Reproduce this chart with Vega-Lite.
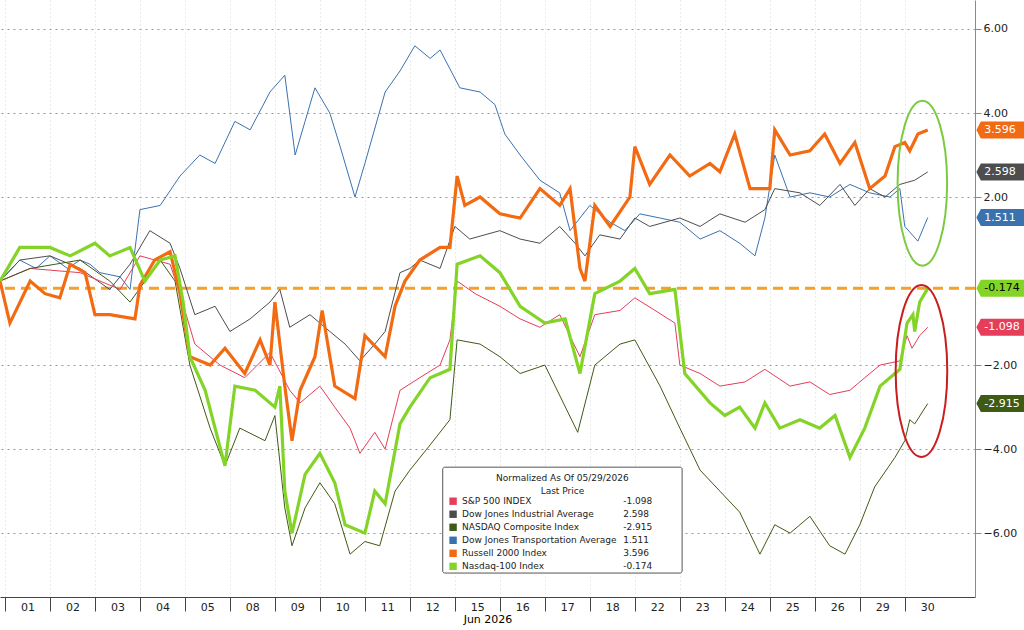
{
  "$schema": "https://vega.github.io/schema/vega-lite/v6.json",
  "width": 975,
  "height": 597,
  "autosize": "none",
  "padding": {"left": 0, "top": 0, "right": 49, "bottom": 33},
  "background": "white",
  "config": {"view": {"stroke": null}, "font": "DejaVu Sans"},
  "datasets": {
    "lines": [
      {"s":"DJT","t":0,"v":0},{"s":"DJT","t":0.44,"v":0.5},{"s":"DJT","t":0.8,"v":0.3},{"s":"DJT","t":1.11,"v":0.6},{"s":"DJT","t":1.5,"v":0.3},{"s":"DJT","t":1.78,"v":0.5},{"s":"DJT","t":2.0,"v":0.4},{"s":"DJT","t":2.22,"v":0.2},{"s":"DJT","t":2.67,"v":0.1},{"s":"DJT","t":2.89,"v":-0.2},{"s":"DJT","t":3.11,"v":1.7},{"s":"DJT","t":3.56,"v":1.8},{"s":"DJT","t":4.0,"v":2.5},{"s":"DJT","t":4.44,"v":3.0},{"s":"DJT","t":4.78,"v":2.8},{"s":"DJT","t":5.22,"v":3.8},{"s":"DJT","t":5.56,"v":3.6},{"s":"DJT","t":6.0,"v":4.5},{"s":"DJT","t":6.33,"v":4.9},{"s":"DJT","t":6.56,"v":3.0},{"s":"DJT","t":6.78,"v":3.8},{"s":"DJT","t":7.0,"v":4.6},{"s":"DJT","t":7.33,"v":4.0},{"s":"DJT","t":7.56,"v":3.2},{"s":"DJT","t":7.89,"v":2.0},{"s":"DJT","t":8.11,"v":2.8},{"s":"DJT","t":8.56,"v":4.5},{"s":"DJT","t":8.89,"v":5.0},{"s":"DJT","t":9.22,"v":5.6},{"s":"DJT","t":9.56,"v":5.3},{"s":"DJT","t":9.78,"v":5.5},{"s":"DJT","t":10.22,"v":4.6},{"s":"DJT","t":10.67,"v":4.5},{"s":"DJT","t":11.0,"v":4.2},{"s":"DJT","t":11.22,"v":3.5},{"s":"DJT","t":11.56,"v":3.0},{"s":"DJT","t":12.0,"v":2.4},{"s":"DJT","t":12.44,"v":2.1},{"s":"DJT","t":12.67,"v":1.2},{"s":"DJT","t":13.11,"v":1.8},{"s":"DJT","t":13.56,"v":1.4},{"s":"DJT","t":13.89,"v":1.2},{"s":"DJT","t":14.22,"v":1.6},{"s":"DJT","t":14.67,"v":1.5},{"s":"DJT","t":15.11,"v":1.4},{"s":"DJT","t":15.56,"v":1.0},{"s":"DJT","t":16.0,"v":1.2},{"s":"DJT","t":16.44,"v":0.9},{"s":"DJT","t":16.78,"v":0.6},{"s":"DJT","t":17.0,"v":1.5},{"s":"DJT","t":17.22,"v":3.0},{"s":"DJT","t":17.56,"v":2.0},{"s":"DJT","t":18.0,"v":2.1},{"s":"DJT","t":18.44,"v":2.0},{"s":"DJT","t":18.89,"v":2.3},{"s":"DJT","t":19.33,"v":2.1},{"s":"DJT","t":19.78,"v":2.0},{"s":"DJT","t":20.0,"v":2.2},{"s":"DJT","t":20.11,"v":1.3},{"s":"DJT","t":20.4,"v":0.95},{"s":"DJT","t":20.62,"v":1.511},

      {"s":"DJIA","t":0,"v":0},{"s":"DJIA","t":0.44,"v":0.5},{"s":"DJIA","t":1.11,"v":0.6},{"s":"DJIA","t":1.78,"v":0.3},{"s":"DJIA","t":2.44,"v":-0.2},{"s":"DJIA","t":2.89,"v":0.4},{"s":"DJIA","t":3.33,"v":1.2},{"s":"DJIA","t":3.78,"v":0.9},{"s":"DJIA","t":4.0,"v":0.3},{"s":"DJIA","t":4.33,"v":-0.8},{"s":"DJIA","t":4.78,"v":-0.6},{"s":"DJIA","t":5.11,"v":-1.2},{"s":"DJIA","t":5.56,"v":-0.9},{"s":"DJIA","t":6.0,"v":-0.5},{"s":"DJIA","t":6.22,"v":-0.2},{"s":"DJIA","t":6.44,"v":-1.1},{"s":"DJIA","t":6.89,"v":-0.8},{"s":"DJIA","t":7.33,"v":-1.2},{"s":"DJIA","t":7.67,"v":-1.5},{"s":"DJIA","t":8.0,"v":-1.9},{"s":"DJIA","t":8.33,"v":-1.5},{"s":"DJIA","t":8.56,"v":-1.2},{"s":"DJIA","t":8.89,"v":0.2},{"s":"DJIA","t":9.11,"v":0.3},{"s":"DJIA","t":9.33,"v":0.5},{"s":"DJIA","t":9.78,"v":0.3},{"s":"DJIA","t":10.11,"v":1.3},{"s":"DJIA","t":10.44,"v":1.0},{"s":"DJIA","t":11.11,"v":1.2},{"s":"DJIA","t":11.56,"v":1.0},{"s":"DJIA","t":12.0,"v":0.9},{"s":"DJIA","t":12.44,"v":1.3},{"s":"DJIA","t":12.78,"v":0.9},{"s":"DJIA","t":13.0,"v":0.6},{"s":"DJIA","t":13.33,"v":1.1},{"s":"DJIA","t":13.78,"v":1.0},{"s":"DJIA","t":14.11,"v":1.5},{"s":"DJIA","t":14.44,"v":1.3},{"s":"DJIA","t":15.11,"v":1.5},{"s":"DJIA","t":15.56,"v":1.3},{"s":"DJIA","t":16.0,"v":1.6},{"s":"DJIA","t":16.56,"v":1.4},{"s":"DJIA","t":17.0,"v":1.7},{"s":"DJIA","t":17.22,"v":2.2},{"s":"DJIA","t":17.78,"v":2.1},{"s":"DJIA","t":18.22,"v":1.8},{"s":"DJIA","t":18.67,"v":2.3},{"s":"DJIA","t":19.0,"v":1.8},{"s":"DJIA","t":19.33,"v":2.2},{"s":"DJIA","t":19.67,"v":2.0},{"s":"DJIA","t":20.0,"v":2.3},{"s":"DJIA","t":20.33,"v":2.4},{"s":"DJIA","t":20.62,"v":2.598},

      {"s":"SPX","t":0,"v":0},{"s":"SPX","t":0.67,"v":0.3},{"s":"SPX","t":1.78,"v":0.2},{"s":"SPX","t":2.67,"v":-0.2},{"s":"SPX","t":3.11,"v":0.6},{"s":"SPX","t":3.78,"v":0.4},{"s":"SPX","t":4.0,"v":-0.3},{"s":"SPX","t":4.33,"v":-1.5},{"s":"SPX","t":4.89,"v":-2.0},{"s":"SPX","t":5.44,"v":-2.3},{"s":"SPX","t":6.0,"v":-1.7},{"s":"SPX","t":6.44,"v":-2.6},{"s":"SPX","t":6.67,"v":-2.9},{"s":"SPX","t":7.11,"v":-2.5},{"s":"SPX","t":7.44,"v":-3.0},{"s":"SPX","t":7.78,"v":-3.5},{"s":"SPX","t":8.0,"v":-4.1},{"s":"SPX","t":8.33,"v":-3.6},{"s":"SPX","t":8.56,"v":-4.0},{"s":"SPX","t":8.89,"v":-2.6},{"s":"SPX","t":9.33,"v":-2.3},{"s":"SPX","t":9.78,"v":-2.0},{"s":"SPX","t":10.0,"v":-1.4},{"s":"SPX","t":10.16,"v":0.0},{"s":"SPX","t":10.56,"v":-0.3},{"s":"SPX","t":11.11,"v":-0.6},{"s":"SPX","t":11.56,"v":-0.9},{"s":"SPX","t":12.0,"v":-1.1},{"s":"SPX","t":12.44,"v":-0.8},{"s":"SPX","t":12.89,"v":-1.8},{"s":"SPX","t":13.22,"v":-0.8},{"s":"SPX","t":13.78,"v":-0.7},{"s":"SPX","t":14.11,"v":-0.4},{"s":"SPX","t":14.56,"v":-0.7},{"s":"SPX","t":15.0,"v":-1.0},{"s":"SPX","t":15.11,"v":-2.0},{"s":"SPX","t":15.56,"v":-2.2},{"s":"SPX","t":16.0,"v":-2.5},{"s":"SPX","t":16.56,"v":-2.4},{"s":"SPX","t":17.0,"v":-2.1},{"s":"SPX","t":17.56,"v":-2.5},{"s":"SPX","t":18.0,"v":-2.4},{"s":"SPX","t":18.44,"v":-2.7},{"s":"SPX","t":18.89,"v":-2.6},{"s":"SPX","t":19.22,"v":-2.3},{"s":"SPX","t":19.56,"v":-2.0},{"s":"SPX","t":20.0,"v":-1.9},{"s":"SPX","t":20.16,"v":-1.3},{"s":"SPX","t":20.27,"v":-1.6},{"s":"SPX","t":20.44,"v":-1.3},{"s":"SPX","t":20.62,"v":-1.098},

      {"s":"CCMP","t":0,"v":0},{"s":"CCMP","t":0.67,"v":0.3},{"s":"CCMP","t":1.78,"v":0.5},{"s":"CCMP","t":2.44,"v":0.0},{"s":"CCMP","t":2.89,"v":-0.5},{"s":"CCMP","t":3.56,"v":0.5},{"s":"CCMP","t":3.89,"v":0.0},{"s":"CCMP","t":4.22,"v":-2.0},{"s":"CCMP","t":4.67,"v":-3.5},{"s":"CCMP","t":5.0,"v":-4.4},{"s":"CCMP","t":5.33,"v":-3.5},{"s":"CCMP","t":5.89,"v":-3.8},{"s":"CCMP","t":6.11,"v":-3.2},{"s":"CCMP","t":6.33,"v":-5.4},{"s":"CCMP","t":6.49,"v":-6.3},{"s":"CCMP","t":6.78,"v":-5.4},{"s":"CCMP","t":7.11,"v":-4.8},{"s":"CCMP","t":7.44,"v":-5.3},{"s":"CCMP","t":7.78,"v":-6.5},{"s":"CCMP","t":8.11,"v":-6.2},{"s":"CCMP","t":8.44,"v":-6.3},{"s":"CCMP","t":8.78,"v":-5.0},{"s":"CCMP","t":9.11,"v":-4.5},{"s":"CCMP","t":9.56,"v":-3.9},{"s":"CCMP","t":10.0,"v":-3.3},{"s":"CCMP","t":10.16,"v":-1.4},{"s":"CCMP","t":10.67,"v":-1.5},{"s":"CCMP","t":11.11,"v":-1.8},{"s":"CCMP","t":11.56,"v":-2.2},{"s":"CCMP","t":12.11,"v":-2.0},{"s":"CCMP","t":12.84,"v":-3.6},{"s":"CCMP","t":13.22,"v":-2.0},{"s":"CCMP","t":13.78,"v":-1.5},{"s":"CCMP","t":14.11,"v":-1.4},{"s":"CCMP","t":14.67,"v":-2.5},{"s":"CCMP","t":15.11,"v":-3.5},{"s":"CCMP","t":15.56,"v":-4.5},{"s":"CCMP","t":16.0,"v":-5.0},{"s":"CCMP","t":16.44,"v":-5.5},{"s":"CCMP","t":16.89,"v":-6.5},{"s":"CCMP","t":17.22,"v":-5.8},{"s":"CCMP","t":17.56,"v":-6.0},{"s":"CCMP","t":18.0,"v":-5.6},{"s":"CCMP","t":18.44,"v":-6.3},{"s":"CCMP","t":18.78,"v":-6.5},{"s":"CCMP","t":19.11,"v":-5.8},{"s":"CCMP","t":19.44,"v":-4.9},{"s":"CCMP","t":19.89,"v":-4.2},{"s":"CCMP","t":20.11,"v":-3.8},{"s":"CCMP","t":20.22,"v":-3.3},{"s":"CCMP","t":20.33,"v":-3.4},{"s":"CCMP","t":20.62,"v":-2.915},

      {"s":"RTY","t":0,"v":0},{"s":"RTY","t":0.22,"v":-1.0},{"s":"RTY","t":0.67,"v":0.0},{"s":"RTY","t":1.0,"v":-0.3},{"s":"RTY","t":1.33,"v":-0.4},{"s":"RTY","t":1.56,"v":0.4},{"s":"RTY","t":1.89,"v":0.2},{"s":"RTY","t":2.11,"v":-0.8},{"s":"RTY","t":2.44,"v":-0.8},{"s":"RTY","t":3.0,"v":-0.9},{"s":"RTY","t":3.11,"v":-0.1},{"s":"RTY","t":3.44,"v":0.5},{"s":"RTY","t":3.78,"v":0.7},{"s":"RTY","t":4.0,"v":-0.3},{"s":"RTY","t":4.22,"v":-1.8},{"s":"RTY","t":4.67,"v":-2.0},{"s":"RTY","t":5.0,"v":-1.6},{"s":"RTY","t":5.44,"v":-2.2},{"s":"RTY","t":5.78,"v":-1.4},{"s":"RTY","t":6.0,"v":-2.0},{"s":"RTY","t":6.11,"v":-0.5},{"s":"RTY","t":6.33,"v":-2.5},{"s":"RTY","t":6.49,"v":-3.8},{"s":"RTY","t":6.67,"v":-2.6},{"s":"RTY","t":7.0,"v":-1.8},{"s":"RTY","t":7.16,"v":-0.7},{"s":"RTY","t":7.44,"v":-2.5},{"s":"RTY","t":7.89,"v":-2.8},{"s":"RTY","t":8.11,"v":-1.3},{"s":"RTY","t":8.56,"v":-1.8},{"s":"RTY","t":8.78,"v":-0.6},{"s":"RTY","t":9.0,"v":0.0},{"s":"RTY","t":9.33,"v":0.5},{"s":"RTY","t":9.78,"v":0.8},{"s":"RTY","t":10.0,"v":0.8},{"s":"RTY","t":10.16,"v":2.5},{"s":"RTY","t":10.33,"v":1.8},{"s":"RTY","t":10.67,"v":2.0},{"s":"RTY","t":11.11,"v":1.6},{"s":"RTY","t":11.56,"v":1.5},{"s":"RTY","t":12.0,"v":2.2},{"s":"RTY","t":12.44,"v":1.8},{"s":"RTY","t":12.67,"v":2.2},{"s":"RTY","t":12.89,"v":0.3},{"s":"RTY","t":13.0,"v":0.0},{"s":"RTY","t":13.22,"v":1.8},{"s":"RTY","t":13.56,"v":1.3},{"s":"RTY","t":14.0,"v":2.0},{"s":"RTY","t":14.11,"v":3.2},{"s":"RTY","t":14.44,"v":2.3},{"s":"RTY","t":14.89,"v":3.0},{"s":"RTY","t":15.33,"v":2.5},{"s":"RTY","t":15.78,"v":2.8},{"s":"RTY","t":16.0,"v":2.6},{"s":"RTY","t":16.33,"v":3.5},{"s":"RTY","t":16.67,"v":2.2},{"s":"RTY","t":17.11,"v":2.2},{"s":"RTY","t":17.22,"v":3.6},{"s":"RTY","t":17.56,"v":3.0},{"s":"RTY","t":18.0,"v":3.1},{"s":"RTY","t":18.33,"v":3.5},{"s":"RTY","t":18.67,"v":2.8},{"s":"RTY","t":19.0,"v":3.3},{"s":"RTY","t":19.33,"v":2.2},{"s":"RTY","t":19.67,"v":2.5},{"s":"RTY","t":19.89,"v":3.2},{"s":"RTY","t":20.11,"v":3.3},{"s":"RTY","t":20.22,"v":3.1},{"s":"RTY","t":20.4,"v":3.5},{"s":"RTY","t":20.62,"v":3.596},

      {"s":"NDX","t":0,"v":0},{"s":"NDX","t":0.44,"v":0.8},{"s":"NDX","t":1.11,"v":0.8},{"s":"NDX","t":1.56,"v":0.6},{"s":"NDX","t":2.11,"v":0.9},{"s":"NDX","t":2.44,"v":0.6},{"s":"NDX","t":2.89,"v":0.8},{"s":"NDX","t":3.22,"v":0.0},{"s":"NDX","t":3.56,"v":0.5},{"s":"NDX","t":3.89,"v":0.6},{"s":"NDX","t":4.07,"v":-0.5},{"s":"NDX","t":4.22,"v":-1.8},{"s":"NDX","t":4.56,"v":-2.6},{"s":"NDX","t":4.78,"v":-3.5},{"s":"NDX","t":5.0,"v":-4.4},{"s":"NDX","t":5.22,"v":-2.5},{"s":"NDX","t":5.67,"v":-2.6},{"s":"NDX","t":6.11,"v":-3.0},{"s":"NDX","t":6.22,"v":-2.5},{"s":"NDX","t":6.33,"v":-5.0},{"s":"NDX","t":6.49,"v":-6.0},{"s":"NDX","t":6.78,"v":-4.6},{"s":"NDX","t":7.11,"v":-4.1},{"s":"NDX","t":7.44,"v":-4.8},{"s":"NDX","t":7.67,"v":-5.8},{"s":"NDX","t":8.11,"v":-6.0},{"s":"NDX","t":8.33,"v":-5.0},{"s":"NDX","t":8.56,"v":-5.3},{"s":"NDX","t":8.89,"v":-3.4},{"s":"NDX","t":9.11,"v":-3.0},{"s":"NDX","t":9.56,"v":-2.3},{"s":"NDX","t":10.0,"v":-2.1},{"s":"NDX","t":10.16,"v":0.4},{"s":"NDX","t":10.67,"v":0.6},{"s":"NDX","t":11.11,"v":0.2},{"s":"NDX","t":11.56,"v":-0.6},{"s":"NDX","t":12.11,"v":-1.0},{"s":"NDX","t":12.56,"v":-0.9},{"s":"NDX","t":12.89,"v":-2.2},{"s":"NDX","t":13.22,"v":-0.3},{"s":"NDX","t":13.78,"v":0.0},{"s":"NDX","t":14.11,"v":0.3},{"s":"NDX","t":14.44,"v":-0.3},{"s":"NDX","t":15.0,"v":-0.2},{"s":"NDX","t":15.22,"v":-2.2},{"s":"NDX","t":15.78,"v":-2.9},{"s":"NDX","t":16.11,"v":-3.2},{"s":"NDX","t":16.44,"v":-3.0},{"s":"NDX","t":16.78,"v":-3.5},{"s":"NDX","t":17.0,"v":-2.9},{"s":"NDX","t":17.33,"v":-3.5},{"s":"NDX","t":17.78,"v":-3.3},{"s":"NDX","t":18.22,"v":-3.5},{"s":"NDX","t":18.56,"v":-3.2},{"s":"NDX","t":18.89,"v":-4.2},{"s":"NDX","t":19.22,"v":-3.5},{"s":"NDX","t":19.56,"v":-2.5},{"s":"NDX","t":20.0,"v":-2.1},{"s":"NDX","t":20.16,"v":-1.0},{"s":"NDX","t":20.29,"v":-0.8},{"s":"NDX","t":20.33,"v":-1.2},{"s":"NDX","t":20.44,"v":-0.5},{"s":"NDX","t":20.62,"v":-0.174}
    ],
    "tags": [
      {"s":"RTY","v":3.596,"label":"3.596","tx":"white"},
      {"s":"DJIA","v":2.598,"label":"2.598","tx":"white"},
      {"s":"DJT","v":1.511,"label":"1.511","tx":"white"},
      {"s":"NDX","v":-0.174,"label":"-0.174","tx":"black"},
      {"s":"SPX","v":-1.098,"label":"-1.098","tx":"white"},
      {"s":"CCMP","v":-2.915,"label":"-2.915","tx":"white"}
    ],
    "legend": [
      {"s":"SPX","name":"S&P 500 INDEX","val":"-1.098","y":-5.24},
      {"s":"DJIA","name":"Dow Jones Industrial Average","val":"2.598","y":-5.55},
      {"s":"CCMP","name":"NASDAQ Composite Index","val":"-2.915","y":-5.86},
      {"s":"DJT","name":"Dow Jones Transportation Average","val":"1.511","y":-6.17},
      {"s":"RTY","name":"Russell 2000 Index","val":"3.596","y":-6.48},
      {"s":"NDX","name":"Nasdaq-100 Index","val":"-0.174","y":-6.79}
    ]
  },
  "layer": [
    {
      "data": {"values": [{"a": 0}]},
      "mark": {"type": "rule", "strokeWidth": 0},
      "encoding": {
        "x": {"datum": 0, "type": "quantitative", "scale": {"domain": [0, 21.67], "nice": false},
          "axis": {"orient": "bottom", "values": [0.12,1.12,2.12,3.12,4.12,5.12,6.12,7.12,8.12,9.12,10.12,11.12,12.12,13.12,14.12,15.12,16.12,17.12,18.12,19.12,20.12],
            "labelExpr": "['01','02','03','04','05','08','09','10','11','12','15','16','17','18','22','23','24','25','26','29','30'][round(datum.value)]",
            "labelOffset": 22, "labelAlign": "center", "labelFontSize": 11, "labelColor": "#222", "tickSize": 14, "labelPadding": -10, "tickColor": "#444", "domainColor": "#444",
            "grid": true, "gridColor": "#bbb", "gridDash": [1, 3], "gridOpacity": 0.6,
            "title": "Jun 2026", "titleFontSize": 11, "titleFontWeight": "normal", "titlePadding": 1}},
        "y": {"datum": 0, "type": "quantitative", "scale": {"domain": [-7.52, 6.69], "nice": false, "zero": false},
          "axis": {"orient": "right", "values": [6, 4, 2, -2, -4, -6], "format": ".2f", "labelFontSize": 11, "labelColor": "#222",
            "domainColor": "#e0627a", "tickColor": "#e0627a", "tickSize": 6, "grid": true, "gridColor": "#999", "gridDash": [2, 4], "title": null}}
      }
    },
    {
      "data": {"values": [{"v": -0.174}]},
      "mark": {"type": "rule", "color": "#f5a02a", "strokeWidth": 3, "strokeDash": [10, 6]},
      "encoding": {"y": {"field": "v", "type": "quantitative"}}
    },
    {
      "data": {"name": "lines"},
      "transform": [{"filter": "datum.s !== 'RTY' && datum.s !== 'NDX'"}],
      "mark": {"type": "line", "strokeWidth": 1},
      "encoding": {
        "x": {"field": "t", "type": "quantitative"},
        "y": {"field": "v", "type": "quantitative"},
        "order": {"field": "t"},
        "color": {"field": "s", "type": "nominal", "legend": null,
          "scale": {"domain": ["SPX","DJIA","CCMP","DJT","RTY","NDX"], "range": ["#e63d5a","#4d4d4d","#3f5a14","#3a72b0","#f26b13","#84d428"]}}
      }
    },
    {
      "data": {"name": "lines"},
      "transform": [{"filter": "datum.s === 'RTY' || datum.s === 'NDX'"}],
      "mark": {"type": "line", "strokeWidth": 3.2},
      "encoding": {
        "x": {"field": "t", "type": "quantitative"},
        "y": {"field": "v", "type": "quantitative"},
        "order": {"field": "t"},
        "color": {"field": "s", "type": "nominal", "legend": null}
      }
    },
    {
      "data": {"values": [
        {"t": 20.5, "v": 2.33, "c": "green"},
        {"t": 20.48, "v": -2.14, "c": "red"}
      ]},
      "mark": {"type": "point", "filled": false, "strokeWidth": 2, "opacity": 1,
        "shape": "M-0.3,0a0.3,1 0 1,0 0.6,0a0.3,1 0 1,0 -0.6,0"},
      "encoding": {
        "x": {"field": "t", "type": "quantitative"},
        "y": {"field": "v", "type": "quantitative"},
        "size": {"field": "c", "type": "nominal", "legend": null, "scale": {"domain": ["green", "red"], "range": [27225, 29584]}},
        "stroke": {"field": "c", "type": "nominal", "legend": null, "scale": {"domain": ["green", "red"], "range": ["#7cc943", "#c81e1e"]}}
      }
    },
    {
      "data": {"name": "tags"},
      "mark": {"type": "point", "filled": true, "opacity": 1, "clip": false, "shape": "M0,0L0.18,-0.34H2V0.34H0.18Z", "size": 2500},
      "encoding": {
        "x": {"datum": 21.7, "type": "quantitative"},
        "y": {"field": "v", "type": "quantitative"},
        "color": {"field": "s", "type": "nominal", "legend": null}
      }
    },
    {
      "data": {"name": "tags"},
      "mark": {"type": "text", "align": "left", "dx": 8, "fontSize": 11, "clip": false},
      "encoding": {
        "x": {"datum": 21.7, "type": "quantitative"},
        "y": {"field": "v", "type": "quantitative"},
        "text": {"field": "label"},
        "fill": {"field": "tx", "type": "nominal", "legend": null, "scale": {"domain": ["white", "black"], "range": ["white", "black"]}}
      }
    },
    {
      "data": {"values": [{"x1": 9.84, "x2": 15.16, "y1": -4.43, "y2": -6.95}]},
      "mark": {"type": "rect", "fill": "white", "stroke": "#555", "strokeWidth": 1, "cornerRadius": 2},
      "encoding": {
        "x": {"field": "x1", "type": "quantitative"}, "x2": {"field": "x2"},
        "y": {"field": "y1", "type": "quantitative"}, "y2": {"field": "y2"}
      }
    },
    {
      "data": {"values": [
        {"x": 12.5, "y": -4.69, "txt": "Normalized As Of 05/29/2026"},
        {"x": 12.5, "y": -5.0, "txt": "Last Price"}
      ]},
      "mark": {"type": "text", "fontSize": 9, "color": "#222"},
      "encoding": {
        "x": {"field": "x", "type": "quantitative"},
        "y": {"field": "y", "type": "quantitative"},
        "text": {"field": "txt"}
      }
    },
    {
      "data": {"name": "legend"},
      "mark": {"type": "square", "size": 55, "opacity": 1},
      "encoding": {
        "x": {"datum": 10.07, "type": "quantitative"},
        "y": {"field": "y", "type": "quantitative"},
        "color": {"field": "s", "type": "nominal", "legend": null}
      }
    },
    {
      "data": {"name": "legend"},
      "mark": {"type": "text", "align": "left", "fontSize": 9, "color": "#222"},
      "encoding": {
        "x": {"datum": 10.27, "type": "quantitative"},
        "y": {"field": "y", "type": "quantitative"},
        "text": {"field": "name"}
      }
    },
    {
      "data": {"name": "legend"},
      "mark": {"type": "text", "align": "left", "fontSize": 9, "color": "#222"},
      "encoding": {
        "x": {"datum": 13.85, "type": "quantitative"},
        "y": {"field": "y", "type": "quantitative"},
        "text": {"field": "val"}
      }
    }
  ]
}
